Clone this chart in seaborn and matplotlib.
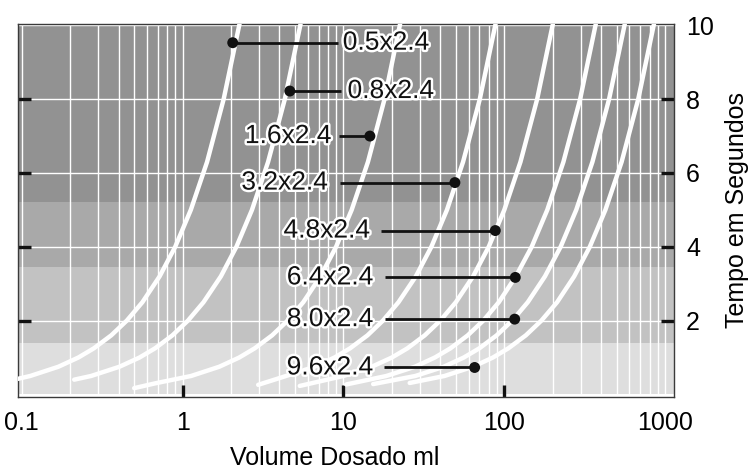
import pandas as pd
import matplotlib.pyplot as plt
import matplotlib.patheffects as pe
from matplotlib.ticker import LogLocator, NullFormatter
import seaborn as sns

bicos = ['0.5x2.4', '0.8x2.4', '1.6x2.4', '3.2x2.4', '4.8x2.4', '6.4x2.4', '8.0x2.4', '9.6x2.4']

# volume dosado (ml) x tempo (s)
tempo = [0.5, 0.75, 1, 1.25, 1.6, 2, 2.5, 3.2, 4, 5, 6.3, 8, 10.2]
vol_05 = [0.09, 0.113, 0.169, 0.225, 0.281, 0.36, 0.45, 0.563, 0.72, 0.90, 1.125, 1.42, 1.80, 2.30]
tem_05 = [0.40] + tempo
vol_08 = [0.212, 0.27, 0.405, 0.54, 0.675, 0.864, 1.08, 1.35, 1.73, 2.16, 2.70, 3.40, 4.32, 5.51]
tem_08 = [0.40] + tempo
vol_16 = [0.5, 0.675, 1.13, 1.69, 2.25, 2.81, 3.60, 4.5, 5.63, 7.2, 9.0, 11.25, 14.2, 18.0, 22.9]
tem_16 = [0.17, 0.3] + tempo
vol_32 = [2.95, 4.4, 6.6, 8.8, 11.0, 14.1, 17.6, 22.0, 28.2, 35.2, 44, 55.4, 70.4, 89.8]
tem_32 = [0.26] + tempo
vol_48 = [5.35, 10, 15, 20, 25, 32, 40, 50, 64, 80, 100, 126, 160, 204]
tem_48 = [0.23] + tempo
vol_64 = [10.4, 18.5, 27.8, 37, 46.3, 59.2, 74, 92.5, 118, 148, 185, 233, 296, 377]
tem_64 = [0.27] + tempo
vol_80 = [15.3, 28, 42, 56, 70, 89.6, 112, 140, 179, 224, 280, 353, 448, 571]
tem_80 = [0.28] + tempo
vol_96 = [25.8, 42.5, 63.8, 85, 106, 136, 170, 213, 272, 340, 425, 536, 680, 867]
tem_96 = [0.31] + tempo

# pontos marcados em cada curva
ponto_vol = [2.05, 4.64, 14.6, 49.3, 87.9, 117, 116, 65.4]
ponto_tem = [9.53, 8.22, 7.0, 5.74, 4.44, 3.17, 2.04, 0.73]

vols = [vol_05, vol_08, vol_16, vol_32, vol_48, vol_64, vol_80, vol_96]
tems = [tem_05, tem_08, tem_16, tem_32, tem_48, tem_64, tem_80, tem_96]
curvas = pd.concat([pd.DataFrame({'Volume': v, 'Tempo': t, 'Bico': b})
                    for v, t, b in zip(vols, tems, bicos)], ignore_index=True)
pontos = pd.DataFrame({'Volume': ponto_vol, 'Tempo': ponto_tem, 'Bico': bicos})

# posicao dos rotulos
rot_x = [9.9, 10.6, 8.4, 8.0, 14.6, 15.3, 15.3, 15.3]
rot_ha = ['left', 'left', 'right', 'right', 'right', 'right', 'right', 'right']
linha_x0 = [9.2, 9.7, 9.35, 9.5, 17.2, 18.2, 18.1, 17.8]

faixas = [0, 1.4, 3.44, 5.22, 10.1]
cores_faixas = ['#dedede', '#c2c2c2', '#a9a9a9', '#929292']

sns.set_style("white")
plt.rcParams['font.family'] = ['Liberation Sans', 'DejaVu Sans']
plt.rcParams['text.color'] = 'black'
plt.rcParams['axes.labelcolor'] = 'black'
plt.rcParams['xtick.labelcolor'] = 'black'
plt.rcParams['ytick.labelcolor'] = 'black'

f, ax = plt.subplots(figsize=(7.52, 4.75), dpi=100)
f.subplots_adjust(left=0.0246, right=0.8959, top=0.9505, bottom=0.1642)

for i, c in enumerate(cores_faixas):
    ax.axhspan(faixas[i], faixas[i + 1], color=c, lw=0, zorder=0)

ax.set_xscale('log')
ax.set_xlim(0.0955, 1130)
ax.set_ylim(-0.07, 10.05)

ax.xaxis.set_minor_locator(LogLocator(base=10, subs=range(2, 10)))
ax.xaxis.set_minor_formatter(NullFormatter())
ax.grid(True, which='both', axis='x', color='white', lw=1.0, zorder=1)
ax.set_yticks([2, 4, 6, 8, 10], labels=['2', '4', '6', '8', '10'])
ax.grid(True, which='major', axis='y', color='white', lw=1.0, zorder=1)
ax.set_axisbelow(True)

sns.lineplot(data=curvas, x='Volume', y='Tempo', hue='Bico', units='Bico',
             estimator=None, sort=False, palette=['white'] * 8, lw=3.2,
             legend=False, ax=ax, zorder=3)

for i in range(len(bicos)):
    ax.plot([linha_x0[i], ponto_vol[i]], [ponto_tem[i], ponto_tem[i]],
            color='#111111', lw=2, zorder=4, solid_capstyle='butt')
    ax.text(rot_x[i], ponto_tem[i], bicos[i], ha=rot_ha[i], va='center',
            fontsize=19, color='#111111', zorder=5,
            path_effects=[pe.withStroke(linewidth=3.5, foreground='white')])

sns.scatterplot(data=pontos, x='Volume', y='Tempo', color='#111111', s=62,
                edgecolor='none', legend=False, ax=ax, zorder=6)

ax.set_xticks([0.1, 1, 10, 100, 1000], labels=['0.1', '1', '10', '100', '1000'])
ax.tick_params(axis='x', which='major', direction='in', length=9, width=2.4,
               color='#111111', labelsize=18, pad=10, bottom=True, top=False)
ax.tick_params(axis='x', which='minor', length=0)
ax.tick_params(axis='y', direction='in', length=9.5, width=2.4, color='#111111',
               labelsize=18, pad=9, left=True, right=True,
               labelleft=False, labelright=True)
xt = ax.xaxis.get_major_ticks()
xt[0].tick1line.set_visible(False)
xt[-1].tick1line.set_visible(False)
yt = ax.yaxis.get_major_ticks()
yt[-1].tick1line.set_visible(False)
yt[-1].tick2line.set_visible(False)

for s in ax.spines.values():
    s.set_visible(True)
    s.set_color('#3a3a3a')
    s.set_linewidth(1.0)

ax.yaxis.set_label_position('right')
ax.set_ylabel('Tempo em Segundos', fontsize=18, labelpad=8)
ax.set_xlabel('Volume Dosado ml', fontsize=18, labelpad=8, x=0.482)

f.savefig('out.png', dpi=100)
